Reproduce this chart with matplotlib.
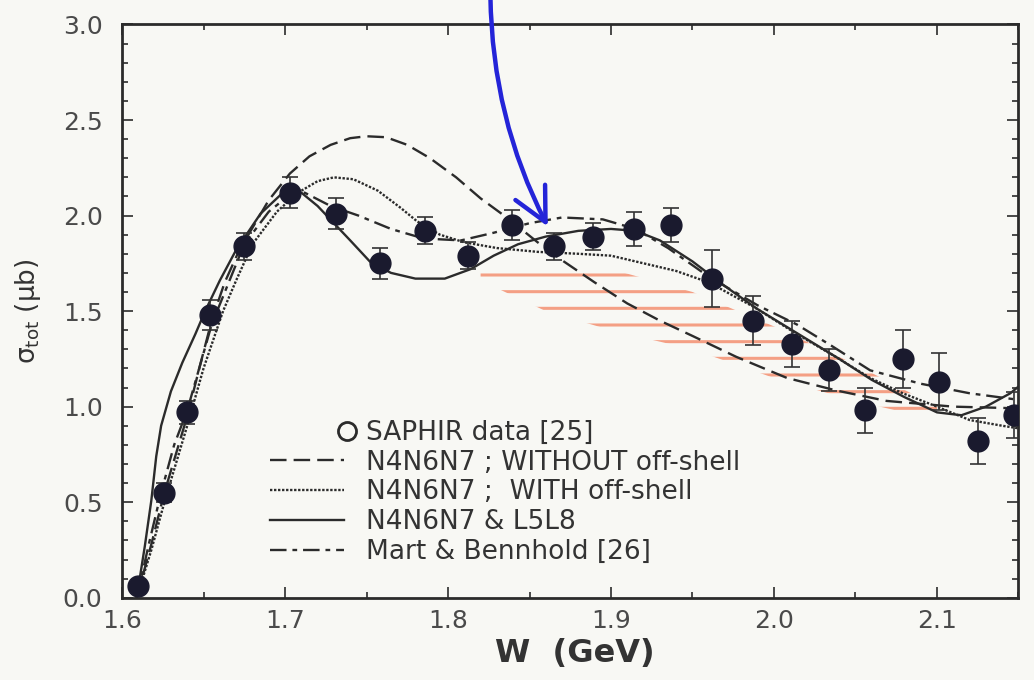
import matplotlib
matplotlib.use("Agg")
import matplotlib.pyplot as plt
from matplotlib.lines import Line2D
from matplotlib.legend_handler import HandlerLine2D
from matplotlib.ticker import MultipleLocator

plt.rcParams['font.family'] = ['DejaVu Sans']
plt.rcParams['mathtext.fontset'] = 'dejavusans'
plt.rcParams['hatch.linewidth'] = 2.2

# SAPHIR data points
w_data = [1.610, 1.626, 1.640, 1.654, 1.675, 1.703, 1.731, 1.758, 1.786, 1.812, 1.839, 1.865,
          1.889, 1.914, 1.937, 1.962, 1.987, 2.011, 2.034, 2.056, 2.079, 2.101, 2.125, 2.147]
sig_data = [0.06, 0.55, 0.97, 1.48, 1.84, 2.12, 2.01, 1.75, 1.92, 1.79, 1.95, 1.84,
            1.89, 1.93, 1.95, 1.67, 1.45, 1.33, 1.19, 0.98, 1.25, 1.13, 0.82, 0.955]
sig_err = [0.02, 0.05, 0.06, 0.08, 0.07, 0.08, 0.08, 0.08, 0.07, 0.07, 0.08, 0.07,
           0.07, 0.09, 0.09, 0.15, 0.13, 0.12, 0.11, 0.12, 0.15, 0.15, 0.12, 0.12]

# N4N6N7 ; WITHOUT off-shell (dashed)
w_without = [1.609, 1.618, 1.626, 1.633, 1.640, 1.648, 1.655, 1.663, 1.672, 1.690, 1.703, 1.715,
             1.728, 1.740, 1.750, 1.762, 1.775, 1.789, 1.805, 1.820, 1.836, 1.855, 1.871, 1.890,
             1.910, 1.930, 1.950, 1.977, 2.008, 2.038, 2.069, 2.110, 2.155]
sig_without = [0.0, 0.28, 0.55, 0.75, 0.95, 1.22, 1.45, 1.65, 1.82, 2.08, 2.22, 2.31,
               2.37, 2.405, 2.415, 2.41, 2.37, 2.30, 2.20, 2.09, 1.99, 1.86, 1.76, 1.65,
               1.54, 1.45, 1.37, 1.26, 1.15, 1.085, 1.03, 1.0, 0.99]

# N4N6N7 ; WITH off-shell (dotted)
w_with = [1.609, 1.618, 1.626, 1.633, 1.640, 1.650, 1.662, 1.670, 1.680, 1.695, 1.708, 1.720,
          1.730, 1.742, 1.757, 1.771, 1.781, 1.795, 1.810, 1.830, 1.855, 1.880, 1.900, 1.920,
          1.940, 1.960, 1.988, 2.014, 2.038, 2.059, 2.079, 2.100, 2.120, 2.140, 2.155]
sig_with = [0.0, 0.25, 0.50, 0.70, 0.90, 1.20, 1.50, 1.66, 1.85, 2.02, 2.12, 2.18,
            2.20, 2.19, 2.13, 2.04, 1.97, 1.90, 1.86, 1.83, 1.81, 1.80, 1.79, 1.75,
            1.71, 1.65, 1.52, 1.38, 1.26, 1.15, 1.07, 1.0, 0.93, 0.90, 0.88]

# N4N6N7 & L5L8 (solid)
w_l5l8 = [1.609, 1.614, 1.618, 1.621, 1.624, 1.630, 1.637, 1.645, 1.651, 1.660, 1.670, 1.685,
          1.700, 1.710, 1.720, 1.730, 1.740, 1.752, 1.765, 1.780, 1.798, 1.814, 1.828, 1.843,
          1.860, 1.880, 1.900, 1.915, 1.930, 1.950, 1.970, 1.990, 2.015, 2.040, 2.060, 2.080,
          2.100, 2.115, 2.130, 2.145, 2.155]
sig_l5l8 = [0.0, 0.27, 0.51, 0.74, 0.90, 1.08, 1.23, 1.38, 1.50, 1.66, 1.82, 2.01,
            2.13, 2.12, 2.05, 1.96, 1.87, 1.76, 1.70, 1.67, 1.67, 1.72, 1.79, 1.85,
            1.89, 1.92, 1.93, 1.92, 1.87, 1.76, 1.63, 1.51, 1.38, 1.25, 1.14, 1.05,
            0.97, 0.955, 1.0, 1.07, 1.14]

# Mart & Bennhold (dash-dot)
w_mb = [1.609, 1.617, 1.624, 1.632, 1.640, 1.655, 1.675, 1.690, 1.703, 1.712, 1.728, 1.745,
        1.765, 1.785, 1.808, 1.828, 1.850, 1.870, 1.895, 1.915, 1.935, 1.960, 1.990, 2.014,
        2.035, 2.059, 2.090, 2.120, 2.155]
sig_mb = [0.0, 0.30, 0.55, 0.80, 0.98, 1.43, 1.85, 2.02, 2.11, 2.12, 2.05, 2.00,
          1.93, 1.88, 1.87, 1.91, 1.96, 1.99, 1.98, 1.93, 1.83, 1.68, 1.53, 1.43,
          1.32, 1.19, 1.12, 1.07, 1.03]

# hand-drawn orange shading region and blue arrow on the scan
w_shade = [1.82, 1.86, 1.90, 1.95, 2.00, 2.05, 2.10]
shade_hi = [1.72, 1.76, 1.72, 1.60, 1.42, 1.22, 1.00]
shade_lo = [1.66, 1.50, 1.40, 1.30, 1.15, 1.03, 0.93]
arrow_from = (1.826, 3.16)
arrow_to = (1.862, 1.93)

ink = '#2b2b2b'


class RightMarker(HandlerLine2D):
    # open circle sits right next to the label, like the scan
    def get_xdata(self, legend, xdescent, ydescent, width, height, fontsize):
        x = [width - 2, width + 6]
        return x, x


fig = plt.figure(figsize=(10.34, 6.8), dpi=100, facecolor='#f8f8f4')
ax = fig.add_axes([0.118, 0.121, 0.867, 0.843])
ax.set_facecolor('#f8f8f4')

ax.fill_between(w_shade, shade_lo, shade_hi, facecolor='none', edgecolor='#f37a55',
                hatch='-', linewidth=0, alpha=0.7, zorder=1)

ax.plot(w_without, sig_without, color=ink, lw=1.7, dashes=(7, 3), zorder=3)
ax.plot(w_with, sig_with, color=ink, lw=1.7, dashes=(1, 0.7), zorder=3)
ax.plot(w_l5l8, sig_l5l8, color=ink, lw=1.7, zorder=3)
ax.plot(w_mb, sig_mb, color=ink, lw=1.7, dashes=(7, 2.5, 2, 2.5), zorder=3)

ax.errorbar(w_data, sig_data, yerr=sig_err, fmt='o', color='#1a1a2e', ecolor='#333333',
            elinewidth=1.2, capsize=6, capthick=1.2, markersize=15, zorder=4)

ax.annotate('', xy=arrow_to, xytext=arrow_from, annotation_clip=False,
            arrowprops=dict(arrowstyle='->', color='#2424d8', lw=3.2, mutation_scale=60,
                            connectionstyle='arc3,rad=0.12'), zorder=6)

ax.set_xlim(1.6, 2.15)
ax.set_ylim(0.0, 3.0)
ax.xaxis.set_major_locator(MultipleLocator(0.1))
ax.xaxis.set_minor_locator(MultipleLocator(0.05))
ax.yaxis.set_major_locator(MultipleLocator(0.5))
ax.yaxis.set_minor_locator(MultipleLocator(0.1))
ax.tick_params(which='both', direction='in', top=True, right=True, colors=ink,
               labelcolor='#4a4a4a', labelsize=18, width=1.2)
ax.tick_params(which='major', length=8)
ax.tick_params(which='minor', length=4)
ax.tick_params(axis='x', pad=8)
ax.tick_params(axis='y', pad=14)
ax.set_xticks([1.6, 1.7, 1.8, 1.9, 2.0, 2.1])
ax.set_xticklabels(['1.6', '1.7', '1.8', '1.9', '2.0', '2.1'])
for s in ax.spines.values():
    s.set_color(ink)
    s.set_linewidth(2)

ax.set_xlabel('W  (GeV)', fontsize=23, fontweight='bold', color='#333333')
ax.xaxis.set_label_coords(0.505, -0.07)
ax.set_ylabel(r'σ$_{\rm tot}$ (μb)', fontsize=19, color='#333333')
ax.yaxis.set_label_coords(-0.088, 0.5)

handles = [
    Line2D([], [], ls='none', marker='o', markersize=13, markerfacecolor='none',
           markeredgecolor=ink, markeredgewidth=2),
    Line2D([], [], color=ink, lw=1.7, dashes=(7, 3)),
    Line2D([], [], color=ink, lw=1.7, dashes=(1, 0.7)),
    Line2D([], [], color=ink, lw=1.7),
    Line2D([], [], color=ink, lw=1.7, dashes=(7, 2.5, 2, 2.5)),
]
labels = ['SAPHIR data [25]', 'N4N6N7 ; WITHOUT off-shell', 'N4N6N7 ;  WITH off-shell',
          'N4N6N7 & L5L8', 'Mart & Bennhold [26]']
leg = ax.legend(handles, labels, loc='upper left', bbox_to_anchor=(0.165, 0.31),
                frameon=False, fontsize=19, handlelength=2.8, handletextpad=0.85,
                labelspacing=0.14, borderaxespad=0, borderpad=0,
                handler_map={handles[0]: RightMarker(numpoints=1)})
for t in leg.get_texts():
    t.set_color('#333333')

fig.savefig('out.png', dpi=100, facecolor=fig.get_facecolor())
